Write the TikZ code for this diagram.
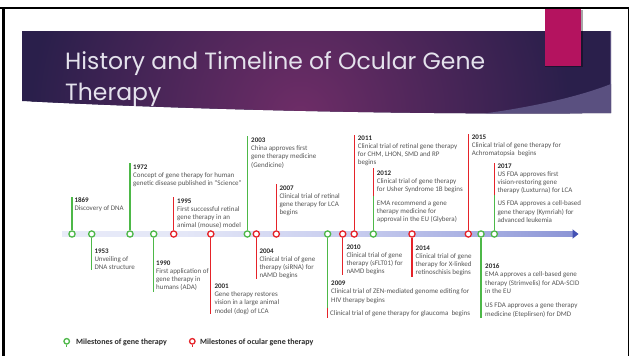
\documentclass[tikz,border=0pt]{standalone}
\usepackage{fontspec}
\setmainfont{Carlito}
\newfontfamily\titlefont{Poppins}
\definecolor{gGreen}{HTML}{4DB848}
\definecolor{gRed}{HTML}{E52329}
\definecolor{txt}{HTML}{555555}
\definecolor{yrc}{HTML}{2A2A2A}
\definecolor{axA}{HTML}{F0F2FB}
\definecolor{axB}{HTML}{E4E7F7}
\definecolor{axC}{HTML}{C6CBEE}
\definecolor{axD}{HTML}{A1A9DF}
\definecolor{axE}{HTML}{7780CC}
\definecolor{axR}{HTML}{4451B4}
\definecolor{banOut}{HTML}{2A1F4B}
\definecolor{banIn}{HTML}{6E2D67}
\definecolor{wedgec}{HTML}{5A5080}
\definecolor{pinkbar}{HTML}{B4135F}
\definecolor{titlecol}{HTML}{E4E2EC}
\pgfdeclarehorizontalshading{axisshade}{100bp}{color(0bp)=(axA); color(37bp)=(axB); color(54bp)=(axC); color(68bp)=(axD); color(82bp)=(axE); color(100bp)=(axR)}
\newcommand{\yeartxt}[1]{{\color{yrc}\bfseries #1}}
\tikzset{
  gm/.style={circle, draw=gGreen, fill=white, line width=1.3pt, minimum size=6.2pt, inner sep=0pt},
  rm/.style={circle, draw=gRed, fill=white, line width=1.3pt, minimum size=6.2pt, inner sep=0pt},
  gstem/.style={draw=gGreen, line width=1.2pt},
  rstem/.style={draw=gRed, line width=1.2pt},
  lbl/.style={anchor=north west, inner sep=0pt, align=left, font=\fontsize{7}{8.2}\selectfont, text=txt},
  legtxt/.style={anchor=west, inner sep=0pt, font=\fontsize{8}{9}\selectfont\bfseries, text=yrc},
  titletxt/.style={anchor=base west, inner sep=0pt, font=\titlefont\fontsize{23.5}{23.5}\selectfont, text=titlecol}
}
\begin{document}
\begin{tikzpicture}[x=1pt,y=-1pt]
\useasboundingbox (0,0) rectangle (629,356);
\fill[white] (0,0) rectangle (629,356);
% banner
\fill[banOut] (22,31) -- (611,31) -- (611,113) .. controls (420,115) and (200,110) .. (22,101) -- cycle;
\begin{scope}
\clip (22,31) -- (611,31) -- (611,113) .. controls (420,115) and (200,110) .. (22,101) -- cycle;
\shade[inner color=banIn, outer color=banOut] (300,115) circle (270);
\fill[wedgec] (611,84) .. controls (570,100) and (510,112) .. (430,120) -- (611,120) -- cycle;
\end{scope}
\draw[wedgec, line width=0.6pt] (610.7,31) -- (610.7,113);
% pink bar
\fill[black, opacity=0.35] (544.5,10) rectangle (582.5,67.3);
\fill[pinkbar] (545,9) rectangle (581,66);
% frame
\draw[black, line width=2pt] (0,8.3) -- (629,8.3);
\draw[black, line width=3pt] (3,8) -- (3,356);
\draw[black, line width=1.2pt] (628.4,8) -- (628.4,356);
% title
\node[titletxt] (title1) at (65,69.5) {History and Timeline of Ocular Gene};
\node[titletxt] (title2) at (65,100) {Therapy};
% axis
\shade[shading=axisshade] (62,231.8) rectangle (573,236.2);
\fill[axR] (572.5,229.3) -- (578.5,234) -- (572.5,238.7) -- cycle;
% markers
\node[gm] (c1869) at (72,234) {};
\node[gm] (c1953) at (91.7,234) {};
\node[gm] (c1972) at (130,234) {};
\node[gm] (c1990) at (153.7,234) {};
\node[rm] (c1995) at (173.7,234) {};
\node[rm] (c2001) at (210.8,234) {};
\node[gm] (c2003) at (247.3,234) {};
\node[rm] (c2004) at (256.3,234) {};
\node[rm] (c2007) at (276.3,234) {};
\node[gm] (c2009) at (327.6,234) {};
\node[rm] (c2010) at (342.7,234) {};
\node[rm] (c2011) at (354.2,234) {};
\node[gm] (c2012) at (373.3,234) {};
\node[rm] (c2014) at (412,234) {};
\node[rm] (c2015) at (468.3,234) {};
\node[gm] (c2016) at (481,234) {};
\node[gm] (c2017) at (494.3,234) {};
% stem ends
\coordinate (t1869) at (72,196.7);
\coordinate (t1972) at (130,163.3);
\coordinate (t1995) at (173.7,197);
\coordinate (t2003) at (247.3,136);
\coordinate (t2007) at (276.3,184);
\coordinate (t2011) at (354.2,134.5);
\coordinate (m2012) at (373.3,196);
\coordinate (t2012) at (373.3,168.3);
\coordinate (t2015) at (468.3,134);
\coordinate (m2017) at (494.3,195);
\coordinate (t2017) at (494.3,163.3);
\coordinate (b1953) at (91.7,270);
\coordinate (b1990) at (153.7,291.7);
\coordinate (b2001) at (210.8,314);
\coordinate (b2004) at (256.3,279.3);
\coordinate (m2009) at (327.6,307.5);
\coordinate (b2009) at (327.6,318.3);
\coordinate (b2010) at (342.7,275);
\coordinate (b2014) at (412,276.7);
\coordinate (b2016) at (481,318.3);
% stems
\draw[gstem] (c1869) -- (t1869);
\draw[gstem] (c1972) -- (t1972);
\draw[rstem] (c1995) -- (t1995);
\draw[gstem] (c2003) -- (t2003);
\draw[rstem] (c2007) -- (t2007);
\draw[rstem] (c2011) -- (t2011);
\draw[gstem] (c2012) -- (m2012);
\draw[rstem] (m2012) -- (t2012);
\draw[rstem] (c2015) -- (t2015);
\draw[gstem] (c2017) -- (m2017);
\draw[rstem] (m2017) -- (t2017);
\draw[gstem] (c1953) -- (b1953);
\draw[gstem] (c1990) -- (b1990);
\draw[rstem] (c2001) -- (b2001);
\draw[rstem] (c2004) -- (b2004);
\draw[gstem] (c2009) -- (m2009);
\draw[rstem] (m2009) -- (b2009);
\draw[rstem] (c2010) -- (b2010);
\draw[rstem] (c2014) -- (b2014);
\draw[gstem] (c2016) -- (b2016);
% labels above
\node[lbl] (l1869) at (74.3,197.7) {\yeartxt{1869}\\Discovery of DNA};
\node[lbl] (l1972) at (133,164.3) {\yeartxt{1972}\\Concept of gene therapy for human\\genetic disease published in “Science”};
\node[lbl] (l1995) at (177,198.3) {\yeartxt{1995}\\First successful retinal\\gene therapy in an\\animal (mouse) model};
\node[lbl] (l2003) at (251,137.7) {\yeartxt{2003}\\China approves first\\gene therapy medicine\\(Gendicine)};
\node[lbl] (l2007) at (279.3,185.3) {\yeartxt{2007}\\Clinical trial of retinal\\gene therapy for LCA\\begins};
\node[lbl] (l2011) at (357.7,135.3) {\yeartxt{2011}\\Clinical trial of retinal gene therapy\\for CHM, LHON, SMD and RP\\begins};
\node[lbl] (l2012) at (376.7,170.3) {\yeartxt{2012}\\Clinical trial of gene therapy\\for Usher Syndrome 1B begins};
\node[lbl] (l2012b) at (376.7,200.3) {EMA recommend a gene\\therapy medicine for\\approval in the EU (Glybera)};
\node[lbl] (l2015) at (471.7,134.3) {\yeartxt{2015}\\Clinical trial of gene therapy for\\Achromatopsia~~begins};
\node[lbl] (l2017) at (497.3,163.3) {\yeartxt{2017}\\US FDA approves first\\vision-restoring gene\\therapy (Luxturna) for LCA};
\node[lbl] (l2017b) at (497.3,200.9) {US FDA approves a cell-based\\gene therapy (Kymriah) for\\advanced leukemia};
% labels below
\node[lbl] (l1953) at (94.3,248.3) {\yeartxt{1953}\\Unveiling of\\DNA structure};
\node[lbl] (l1990) at (156,260.3) {\yeartxt{1990}\\First application of\\gene therapy in\\humans (ADA)};
\node[lbl] (l2001) at (214.3,283.8) {\yeartxt{2001}\\Gene therapy restores\\vision in a large animal\\model (dog) of LCA};
\node[lbl] (l2004) at (259.3,248.3) {\yeartxt{2004}\\Clinical trial of gene\\therapy (siRNA) for\\nAMD begins};
\node[lbl] (l2009) at (331,280.9) {\yeartxt{2009}\\Clinical trial of ZEN-mediated genome editing for\\HIV therapy begins};
\node[lbl] (l2009b) at (330,310.9) {Clinical trial of gene therapy for glaucoma~~begins};
\node[lbl] (l2010) at (346.3,244.3) {\yeartxt{2010}\\Clinical trial of gene\\therapy (sFLT01) for\\nAMD begins};
\node[lbl] (l2014) at (415.5,245.3) {\yeartxt{2014}\\Clinical trial of gene\\therapy for X-linked\\retinoschisis begins};
\node[lbl] (l2016) at (485,263.8) {\yeartxt{2016}\\EMA approves a cell-based gene\\therapy (Strimvelis) for ADA-SCID\\in the EU};
\node[lbl] (l2016b) at (485,302.9) {US FDA approves a gene therapy\\medicine (Eteplirsen) for DMD};
% legend
\node[gm, minimum size=5.5pt, line width=1.3pt] (lgg) at (66.7,341.3) {};
\coordinate (lggt) at (66.7,346.5);
\draw[gstem] (lgg) -- (lggt);
\node[legtxt] (lggtxt) at (76,342.8) {Milestones of gene therapy};
\node[rm, minimum size=5.5pt, line width=1.3pt] (lgr) at (192.3,341.3) {};
\coordinate (lgrt) at (192.3,346.5);
\draw[rstem] (lgr) -- (lgrt);
\node[legtxt] (lgrtxt) at (200,342.8) {Milestones of ocular gene therapy};
\end{tikzpicture}
\end{document}
